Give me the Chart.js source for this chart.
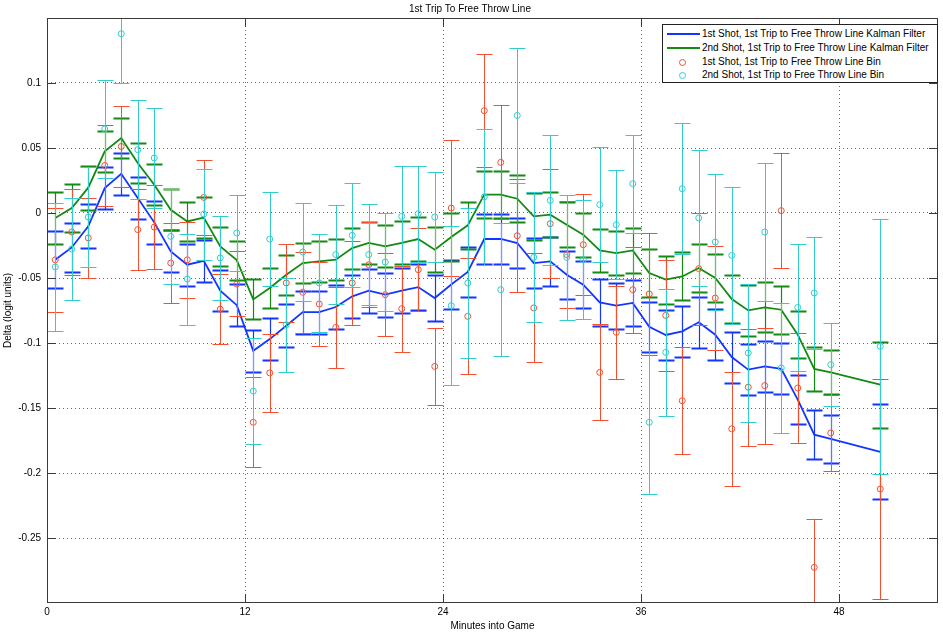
<!DOCTYPE html>
<html>
<head>
<meta charset="utf-8">
<script src="https://cdn.jsdelivr.net/npm/chart.js@4.4.1/dist/chart.umd.min.js"></script>
<style>
  body { margin: 0; background: #fff; }
  #wrap { position: relative; width: 943px; height: 634px; }
  #legend {
    position: absolute; left: 662px; top: 24px; width: 274px; height: 57px;
    border: 1px solid #222; background: #fff;
    font: 10px 'Liberation Sans', Arial, sans-serif; color: #000;
  }
  .row { position: absolute; left: 0; height: 14px; line-height: 14px; }
  .row span.t { position: absolute; left: 39px; white-space: nowrap; }
  .ln { position: absolute; left: 4px; top: 6px; width: 33px; height: 2px; }
  .mk { position: absolute; left: 16px; top: 4px; width: 5px; height: 5px; border-radius: 50%; border: 1px solid; }
</style>
</head>
<body>
<div id="wrap">
  <canvas id="chart" width="943" height="634"></canvas>
  <div id="legend"></div>
</div>
<script>
// minutes into game (bin centres); last one is overtime
const minutes = [0.5, 1.5, 2.5, 3.5, 4.5, 5.5, 6.5, 7.5, 8.5, 9.5, 10.5, 11.5,
  12.5, 13.5, 14.5, 15.5, 16.5, 17.5, 18.5, 19.5, 20.5, 21.5, 22.5, 23.5,
  24.5, 25.5, 26.5, 27.5, 28.5, 29.5, 30.5, 31.5, 32.5, 33.5, 34.5, 35.5,
  36.5, 37.5, 38.5, 39.5, 40.5, 41.5, 42.5, 43.5, 44.5, 45.5, 46.5, 47.5, 50.5]

const shot1Kalman = [-0.0359, -0.0265, -0.0103, 0.0192, 0.0302, 0.0115, -0.0072, -0.0295, -0.0398, -0.0368, -0.0597, -0.0709,
  -0.106, -0.097, -0.0867, -0.0762, -0.0762, -0.0723, -0.0641, -0.0598, -0.0628, -0.0598, -0.057, -0.0654,
  -0.055, -0.0453, -0.02, -0.02, -0.0231, -0.0385, -0.0372, -0.0475, -0.0552, -0.0688, -0.0713, -0.0692,
  -0.0876, -0.0938, -0.091, -0.0841, -0.0936, -0.1108, -0.1205, -0.118, -0.1198, -0.1436, -0.1705, -0.1738, -0.1838]
const shot1KalmanErr = [0.022, 0.019, 0.017, 0.0162, 0.0163, 0.0164, 0.0163, 0.0162, 0.016, 0.016, 0.0158, 0.016,
  0.0163, 0.0163, 0.0164, 0.0165, 0.0165, 0.0166, 0.0167, 0.0168, 0.017, 0.0172, 0.0175, 0.018,
  0.0188, 0.019, 0.019, 0.019, 0.019, 0.019, 0.019, 0.0185, 0.018, 0.0178, 0.0178, 0.018,
  0.019, 0.0193, 0.0195, 0.0196, 0.0196, 0.0196, 0.0198, 0.0197, 0.0195, 0.019, 0.0187, 0.0182, 0.0365]

const shot2Kalman = [-0.0038, 0.0038, 0.0195, 0.0474, 0.0577, 0.0385, 0.0218, 0.0025, -0.0065, -0.0035, -0.0257, -0.0362,
  -0.0665, -0.0577, -0.0475, -0.0385, -0.0372, -0.0359, -0.027, -0.023, -0.0257, -0.023, -0.02, -0.0282,
  -0.0185, -0.0095, 0.0141, 0.0141, 0.011, -0.0026, -0.0013, -0.009, -0.0167, -0.0288, -0.0308, -0.0288,
  -0.0462, -0.0513, -0.0488, -0.0423, -0.05, -0.0662, -0.0749, -0.0726, -0.0744, -0.0936, -0.12, -0.1226, -0.132]
const shot2KalmanErr = [0.0197, 0.0187, 0.017, 0.016, 0.0156, 0.0156, 0.0157, 0.0157, 0.0152, 0.0155, 0.0148, 0.015,
  0.0154, 0.0154, 0.0155, 0.0155, 0.0156, 0.0157, 0.0158, 0.016, 0.0162, 0.0165, 0.017, 0.0175,
  0.0183, 0.0183, 0.0183, 0.0182, 0.018, 0.0178, 0.0175, 0.0172, 0.017, 0.0167, 0.0167, 0.017,
  0.0182, 0.0185, 0.0185, 0.0186, 0.0186, 0.0186, 0.0195, 0.0192, 0.0185, 0.018, 0.0173, 0.017, 0.033]

const shot1Bin = [-0.036, -0.0146, -0.0192, 0.0366, 0.0512, -0.0128, -0.0108, -0.0385, -0.036, 0.012, -0.074, -0.0546,
  -0.161, -0.123, -0.0538, -0.061, -0.07, -0.088, -0.0538, -0.0398, -0.0628, -0.0736, -0.0436, -0.118,
  0.0038, -0.0795, 0.0787, 0.039, -0.0175, -0.073, -0.0082, -0.032, -0.0244, -0.1226, -0.0918, -0.059,
  -0.0623, -0.0788, -0.1444, -0.0428, -0.0654, -0.166, -0.134, -0.1328, 0.0018, -0.1346, -0.2726, -0.1692, -0.2123]
const shot1BinErr = [0.04, 0.033, 0.031, 0.031, 0.031, 0.031, 0.032, 0.0305, 0.029, 0.029, 0.027, 0.025,
  0.0345, 0.03, 0.0303, 0.031, 0.032, 0.031, 0.032, 0.0326, 0.032, 0.033, 0.032, 0.0295,
  0.0526, 0.0445, 0.0436, 0.0437, 0.0435, 0.042, 0.042, 0.041, 0.039, 0.037, 0.0357, 0.033,
  0.047, 0.0425, 0.041, 0.043, 0.04, 0.0437, 0.045, 0.0446, 0.0444, 0.0423, 0.037, 0.029, 0.0847]

const shot2Bin = [-0.0415, -0.0277, -0.0031, 0.0646, 0.1379, 0.0487, 0.0423, -0.018, -0.0508, -0.0008, -0.0346, -0.0154,
  -0.137, -0.02, -0.086, -0.03, -0.0538, -0.032, -0.0172, -0.032, -0.0377, -0.0026, -0.0005, -0.0031,
  -0.0713, -0.0538, 0.0123, -0.059, 0.075, -0.0341, 0.0097, -0.0341, -0.0359, 0.0064, -0.009, 0.0225,
  -0.161, -0.1072, 0.0187, -0.0038, -0.0223, -0.0326, -0.1077, -0.0146, -0.1192, -0.0726, -0.0615, -0.1167, -0.1026]
const shot2BinErr = [0.049, 0.039, 0.0386, 0.0374, 0.0379, 0.038, 0.0385, 0.0366, 0.035, 0.035, 0.0325, 0.0295,
  0.041, 0.036, 0.036, 0.038, 0.038, 0.038, 0.04, 0.039, 0.0375, 0.039, 0.037, 0.0344,
  0.061, 0.058, 0.052, 0.051, 0.052, 0.05, 0.05, 0.048, 0.0456, 0.044, 0.042, 0.0377,
  0.055, 0.049, 0.0505, 0.0525, 0.0525, 0.0526, 0.053, 0.053, 0.05, 0.049, 0.043, 0.0317, 0.098]

const xTicks = [0, 12, 24, 36, 48]
const yTicks = [-0.25, -0.2, -0.15, -0.1, -0.05, 0, 0.05, 0.1]
const yTickLabels = ['-0.25', '-0.2', '-0.15', '-0.1', '-0.05', '0', '0.05', '0.1']

const legendNames = [
  '1st Shot, 1st Trip to Free Throw Line Kalman Filter',
  '2nd Shot, 1st Trip to Free Throw Line Kalman Filter',
  '1st Shot, 1st Trip to Free Throw Line Bin',
  '2nd Shot, 1st Trip to Free Throw Line Bin'
]

const BLUE = '#1236ff'
const GREEN = '#138a13'
const RED = '#f4502f'
const CYAN = '#33cccc'
const FONT = "'Liberation Sans', Arial, sans-serif"

function pts(vals) {
  return minutes.map((m, i) => ({ x: m, y: vals[i] }))
}

// vertical error bars with caps, drawn through the chart scales
const errorBars = {
  id: 'errorBars',
  afterDatasetDraw(chart, args) {
    const ds = chart.data.datasets[args.index]
    if (!ds.errors) return
    const { ctx, chartArea: a, scales: { x, y } } = chart
    ctx.save()
    ctx.beginPath()
    ctx.rect(a.left, a.top, a.right - a.left, a.bottom - a.top)
    ctx.clip()
    ctx.strokeStyle = ds.borderColor
    ds.data.forEach((p, i) => {
      const e = ds.errors[i]
      const px = Math.round(x.getPixelForValue(p.x)) + 0.5
      const hi = Math.round(y.getPixelForValue(p.y + e)) + 0.5
      const lo = Math.round(y.getPixelForValue(p.y - e)) + 0.5
      ctx.lineWidth = ds.barWidth
      ctx.beginPath()
      ctx.moveTo(px, hi)
      ctx.lineTo(px, lo)
      ctx.stroke()
      ctx.lineWidth = ds.capWidth
      ctx.beginPath()
      ctx.moveTo(px - 8, hi)
      ctx.lineTo(px + 8, hi)
      ctx.moveTo(px - 8, lo)
      ctx.lineTo(px + 8, lo)
      ctx.stroke()
    })
    ctx.restore()
  }
}

// box round the axes and inward tick marks
const axesBox = {
  id: 'axesBox',
  afterDraw(chart) {
    const { ctx, chartArea: a, scales: { x, y } } = chart
    ctx.save()
    ctx.strokeStyle = '#3a3a3a'
    ctx.lineWidth = 1
    ctx.strokeRect(Math.round(a.left) + 0.5, Math.round(a.top) + 0.5,
      Math.round(a.right - a.left) - 1, Math.round(a.bottom - a.top) - 1)
    ctx.beginPath()
    for (const v of xTicks) {
      const px = Math.round(x.getPixelForValue(v)) + 0.5
      ctx.moveTo(px, a.bottom)
      ctx.lineTo(px, a.bottom - 9)
      ctx.moveTo(px, a.top)
      ctx.lineTo(px, a.top + 9)
    }
    for (const v of yTicks) {
      const py = Math.round(y.getPixelForValue(v)) + 0.5
      ctx.moveTo(a.left, py)
      ctx.lineTo(a.left + 9, py)
      ctx.moveTo(a.right, py)
      ctx.lineTo(a.right - 9, py)
    }
    ctx.stroke()
    ctx.restore()
  }
}

const ctx = document.getElementById('chart')

new Chart(ctx, {
  type: 'scatter',
  data: {
    datasets: [{
      label: legendNames[0],
      data: pts(shot1Kalman),
      errors: shot1KalmanErr,
      showLine: true,
      borderColor: BLUE,
      borderWidth: 1.8,
      pointRadius: 0,
      barWidth: 1.2,
      capWidth: 2,
      order: 4
    }, {
      label: legendNames[1],
      data: pts(shot2Kalman),
      errors: shot2KalmanErr,
      showLine: true,
      borderColor: GREEN,
      borderWidth: 1.8,
      pointRadius: 0,
      barWidth: 1.2,
      capWidth: 2,
      order: 3
    }, {
      label: legendNames[2],
      data: pts(shot1Bin),
      errors: shot1BinErr,
      showLine: false,
      borderColor: RED,
      backgroundColor: 'rgba(0,0,0,0)',
      pointRadius: 3,
      pointBorderWidth: 1,
      barWidth: 1,
      capWidth: 1,
      order: 2
    }, {
      label: legendNames[3],
      data: pts(shot2Bin),
      errors: shot2BinErr,
      showLine: false,
      borderColor: CYAN,
      backgroundColor: 'rgba(0,0,0,0)',
      pointRadius: 3,
      pointBorderWidth: 1,
      barWidth: 1,
      capWidth: 1,
      order: 1
    }]
  },
  options: {
    responsive: false,
    animation: false,
    devicePixelRatio: 1,
    layout: { padding: { left: 0, right: 3, top: 0, bottom: 0 } },
    plugins: {
      legend: { display: false },
      tooltip: { enabled: false },
      title: {
        display: true,
        text: '1st Trip To Free Throw Line',
        color: '#000',
        font: { family: FONT, size: 10, weight: 'normal' },
        padding: { top: 3, bottom: 3 }
      }
    },
    scales: {
      x: {
        type: 'linear',
        min: 0,
        max: 54,
        afterBuildTicks: s => { s.ticks = xTicks.map(v => ({ value: v })) },
        afterFit: s => { s.height = 31 },
        grid: { color: 'rgba(0,0,0,0.6)', drawTicks: false },
        border: { display: false, dash: [1, 3] },
        ticks: {
          autoSkip: false, maxRotation: 0, padding: 3, color: '#000',
          font: { family: FONT, size: 10 },
          callback: v => String(v)
        },
        title: {
          display: true, text: 'Minutes into Game', color: '#000',
          font: { family: FONT, size: 10 }, padding: { top: 0, bottom: 2 }
        }
      },
      y: {
        type: 'linear',
        min: -0.3,
        max: 0.15,
        afterBuildTicks: s => { s.ticks = yTicks.map(v => ({ value: v })) },
        afterFit: s => { s.width = 47 },
        grid: { color: 'rgba(0,0,0,0.6)', drawTicks: false },
        border: { display: false, dash: [1, 3] },
        ticks: {
          autoSkip: false, padding: 6, color: '#000',
          font: { family: FONT, size: 10 },
          callback: v => yTickLabels[yTicks.indexOf(v)]
        },
        title: {
          display: true, text: 'Delta (logit units)', color: '#000',
          font: { family: FONT, size: 10 }, padding: { top: 2, bottom: 0 }
        }
      }
    }
  },
  plugins: [errorBars, axesBox]
})

// legend box in the top-right corner of the axes
const legendEl = document.getElementById('legend')
const legendMarks = [
  { kind: 'ln', color: BLUE }, { kind: 'ln', color: GREEN },
  { kind: 'mk', color: RED }, { kind: 'mk', color: CYAN }
]
legendNames.forEach((name, i) => {
  const row = document.createElement('div')
  row.className = 'row'
  row.style.top = (2 + i * 13.8) + 'px'
  const m = legendMarks[i]
  const mark = document.createElement('span')
  mark.className = m.kind
  if (m.kind === 'ln') mark.style.background = m.color
  else mark.style.borderColor = m.color
  const text = document.createElement('span')
  text.className = 't'
  text.textContent = name
  row.appendChild(mark)
  row.appendChild(text)
  legendEl.appendChild(row)
})
</script>
</body>
</html>
